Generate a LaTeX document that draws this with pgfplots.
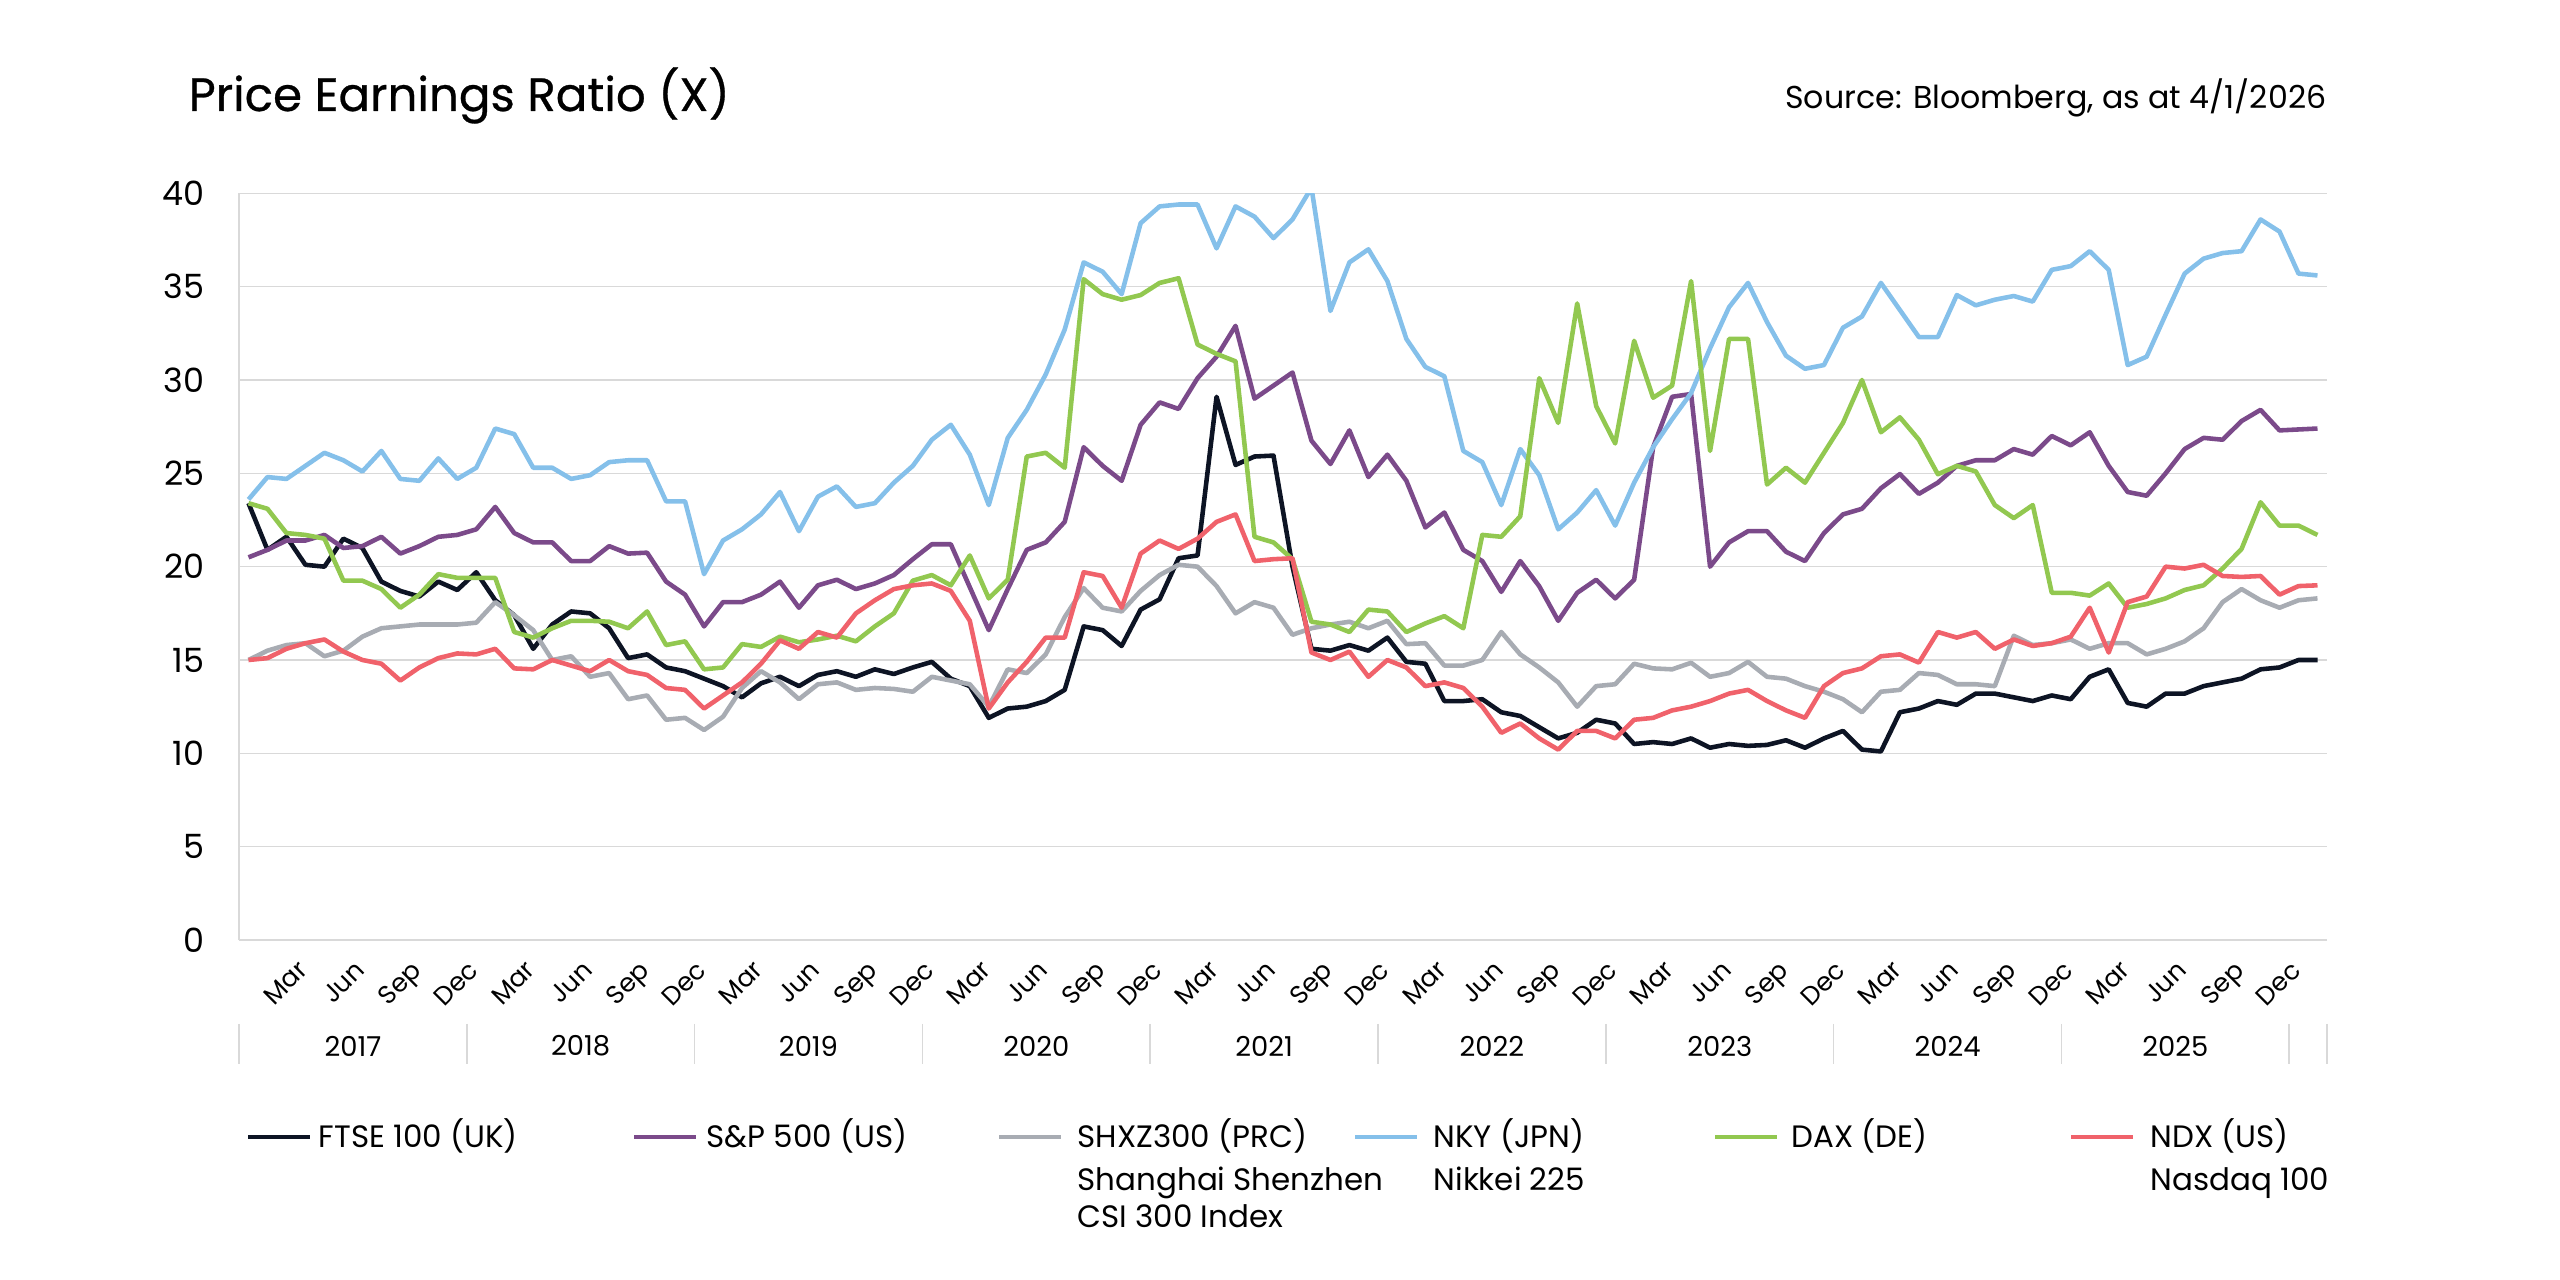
\documentclass[border=0pt]{standalone}
\usepackage{pgfplots}
\pgfplotsset{compat=1.18}
\usepackage{pgfplotstable}
\usepackage{fontspec}
\setmainfont{Poppins}
\newfontfamily\titlefont{Poppins}[FakeBold=0.6]

\definecolor{ftse}{HTML}{0D1424}
\definecolor{spx}{HTML}{7B4A8A}
\definecolor{shx}{HTML}{A8ACB3}
\definecolor{nky}{HTML}{85C0EA}
\definecolor{dax}{HTML}{92C850}
\definecolor{ndx}{HTML}{F0626B}
\definecolor{gridc}{HTML}{D9D9D9}

% monthly P/E, i = 0 is Jan 2017
\pgfplotstableread{
i ftse spx shx nky dax ndx
0 23.4 20.5 15.0 23.6 23.4 15.0
1 20.9 20.9 15.5 24.8 23.1 15.1
2 21.6 21.4 15.8 24.7 21.8 15.6
3 20.1 21.4 15.9 25.4 21.7 15.9
4 20.0 21.7 15.2 26.1 21.5 16.1
5 21.5 21.0 15.5 25.7 19.25 15.45
6 21.0 21.1 16.25 25.1 19.25 15.0
7 19.2 21.6 16.7 26.2 18.8 14.8
8 18.7 20.7 16.8 24.7 17.8 13.9
9 18.4 21.1 16.9 24.6 18.5 14.6
10 19.2 21.6 16.9 25.8 19.6 15.1
11 18.75 21.7 16.9 24.7 19.4 15.35
12 19.7 22.0 17.0 25.3 19.4 15.3
13 18.2 23.2 18.1 27.4 19.4 15.6
14 17.4 21.8 17.4 27.1 16.5 14.55
15 15.6 21.3 16.6 25.3 16.2 14.5
16 16.9 21.3 15.0 25.3 16.7 15.0
17 17.6 20.3 15.2 24.7 17.1 14.7
18 17.5 20.3 14.1 24.9 17.1 14.4
19 16.7 21.1 14.3 25.6 17.05 15.0
20 15.1 20.7 12.9 25.7 16.7 14.4
21 15.3 20.75 13.1 25.7 17.6 14.2
22 14.6 19.2 11.8 23.5 15.8 13.5
23 14.4 18.5 11.9 23.5 16.0 13.4
24 14.0 16.8 11.25 19.6 14.5 12.4
25 13.6 18.1 11.96 21.4 14.6 13.1
26 13.0 18.1 13.5 22.0 15.85 13.8
27 13.75 18.5 14.4 22.8 15.7 14.8
28 14.1 19.2 13.8 24.0 16.25 16.05
29 13.6 17.8 12.9 21.9 15.95 15.6
30 14.2 19.0 13.7 23.75 16.1 16.5
31 14.4 19.3 13.8 24.3 16.3 16.2
32 14.1 18.8 13.4 23.2 16.0 17.5
33 14.5 19.1 13.5 23.4 16.8 18.2
34 14.25 19.55 13.45 24.5 17.5 18.8
35 14.6 20.4 13.3 25.4 19.25 19.0
36 14.9 21.2 14.1 26.8 19.55 19.1
37 14.0 21.2 13.9 27.6 19.0 18.7
38 13.6 18.9 13.7 26.0 20.6 17.1
39 11.9 16.6 12.5 23.3 18.3 12.4
40 12.4 18.8 14.5 26.9 19.3 13.8
41 12.5 20.9 14.3 28.4 25.9 14.9
42 12.8 21.3 15.3 30.3 26.1 16.2
43 13.4 22.4 17.3 32.7 25.3 16.2
44 16.8 26.4 18.85 36.3 35.4 19.7
45 16.6 25.4 17.8 35.8 34.6 19.5
46 15.75 24.6 17.6 34.6 34.3 17.8
47 17.7 27.6 18.7 38.4 34.55 20.7
48 18.25 28.8 19.55 39.3 35.2 21.4
49 20.45 28.45 20.1 39.4 35.45 20.95
50 20.6 30.1 20.0 39.4 31.9 21.5
51 29.1 31.25 18.96 37.05 31.4 22.4
52 25.45 32.9 17.5 39.3 31.0 22.8
53 25.9 29.0 18.1 38.75 21.6 20.3
54 25.95 29.7 17.8 37.6 21.3 20.4
55 20.0 30.4 16.35 38.6 20.4 20.45
56 15.6 26.75 16.7 40.3 17.05 15.4
57 15.5 25.5 16.9 33.7 16.9 15.0
58 15.8 27.3 17.05 36.3 16.5 15.45
59 15.5 24.8 16.7 37.0 17.7 14.1
60 16.2 26.0 17.1 35.3 17.6 15.0
61 14.9 24.6 15.85 32.2 16.5 14.6
62 14.8 22.1 15.9 30.7 16.96 13.6
63 12.8 22.9 14.7 30.2 17.35 13.8
64 12.8 20.9 14.7 26.2 16.7 13.5
65 12.9 20.3 15.0 25.6 21.7 12.5
66 12.2 18.65 16.5 23.3 21.6 11.1
67 12.0 20.3 15.3 26.3 22.7 11.6
68 11.4 18.95 14.6 24.9 30.1 10.8
69 10.8 17.1 13.8 22.0 27.7 10.2
70 11.1 18.6 12.5 22.9 34.1 11.2
71 11.8 19.3 13.6 24.1 28.6 11.2
72 11.6 18.3 13.7 22.2 26.6 10.8
73 10.5 19.3 14.8 24.5 32.1 11.8
74 10.6 26.4 14.55 26.4 29.05 11.9
75 10.5 29.1 14.5 27.9 29.7 12.3
76 10.8 29.25 14.85 29.3 35.3 12.5
77 10.3 20.0 14.1 31.7 26.2 12.8
78 10.5 21.3 14.3 33.9 32.2 13.2
79 10.4 21.9 14.9 35.2 32.2 13.4
80 10.45 21.9 14.1 33.1 24.4 12.8
81 10.7 20.8 14.0 31.3 25.3 12.3
82 10.3 20.3 13.6 30.6 24.5 11.9
83 10.8 21.8 13.3 30.8 26.1 13.6
84 11.2 22.8 12.9 32.8 27.7 14.3
85 10.2 23.1 12.2 33.4 30.0 14.55
86 10.1 24.2 13.3 35.2 27.2 15.2
87 12.2 24.96 13.4 33.75 28.0 15.3
88 12.4 23.9 14.3 32.3 26.8 14.86
89 12.8 24.5 14.2 32.3 24.95 16.5
90 12.6 25.4 13.7 34.55 25.4 16.2
91 13.2 25.7 13.7 34.0 25.1 16.5
92 13.2 25.7 13.6 34.3 23.3 15.6
93 13.0 26.3 16.3 34.5 22.6 16.1
94 12.8 26.0 15.8 34.2 23.3 15.75
95 13.1 27.0 15.9 35.9 18.6 15.9
96 12.9 26.5 16.1 36.1 18.6 16.25
97 14.1 27.2 15.6 36.9 18.45 17.8
98 14.5 25.4 15.9 35.9 19.1 15.4
99 12.7 24.0 15.9 30.8 17.8 18.1
100 12.5 23.8 15.3 31.25 18.0 18.4
101 13.2 25.0 15.6 33.5 18.3 20.0
102 13.2 26.3 16.0 35.7 18.75 19.9
103 13.6 26.9 16.7 36.5 19.0 20.1
104 13.8 26.8 18.1 36.8 19.9 19.5
105 14.0 27.8 18.8 36.9 20.95 19.45
106 14.5 28.4 18.2 38.6 23.45 19.5
107 14.6 27.3 17.8 37.95 22.2 18.5
108 15.0 27.35 18.2 35.7 22.2 18.96
109 15.0 27.4 18.3 35.6 21.7 19.0
}\pe

\begin{document}
\begin{tikzpicture}[x=0.1mm,y=0.1mm]
\path[use as bounding box] (0,0) rectangle (2560,1280);

\node[anchor=base west,inner sep=0pt,font=\titlefont\fontsize{13.3}{16}\selectfont] at (188,1169) {Price Earnings Ratio (X)};
\node[anchor=base east,inner sep=0pt,font=\fontsize{9}{11}\selectfont] at (2327,1171) {Source: Bloomberg, as at 4/1/2026};

\begin{axis}[at={(23.9mm,34mm)},anchor=south west,scale only axis,
  width=208.8mm,height=74.67mm,
  xmin=-0.5,xmax=109.5,ymin=0,ymax=40,
  ytick={0,5,...,40},
  xtick={2,5,...,107},
  xticklabels={Mar,Jun,Sep,Dec,Mar,Jun,Sep,Dec,Mar,Jun,Sep,Dec,Mar,Jun,Sep,Dec,Mar,Jun,Sep,Dec,Mar,Jun,Sep,Dec,Mar,Jun,Sep,Dec,Mar,Jun,Sep,Dec,Mar,Jun,Sep,Dec},
  ymajorgrids,grid style={draw=gridc,line width=0.45pt},
  axis x line*=bottom,axis y line*=left,
  x axis line style={draw=none},
  y axis line style={draw=gridc,line width=0.45pt,-},
  major tick length=0pt,
  /pgf/number format/assume math mode=true,
  yticklabel style={font=\fontsize{9.5}{11}\selectfont,anchor=east,inner sep=0pt,xshift=-3.4mm},
  xticklabel style={font=\fontsize{7.3}{9}\selectfont,rotate=45,anchor=north east,inner sep=0pt,yshift=-2.0mm,xshift=-0.6mm},
  every axis plot/.append style={line width=1.3pt,line join=round,no marks},
]
\addplot[ftse] table[x=i,y=ftse]{\pe};
\addplot[spx] table[x=i,y=spx]{\pe};
\addplot[shx] table[x=i,y=shx]{\pe};
\addplot[nky] table[x=i,y=nky]{\pe};
\addplot[dax] table[x=i,y=dax]{\pe};
\addplot[ndx] table[x=i,y=ndx]{\pe};
\end{axis}

% year row
\foreach \k/\yr in {0/2017,1/2018,2/2019,3/2020,4/2021,5/2022,6/2023,7/2024,8/2025}
  \node[font=\fontsize{7.8}{9}\selectfont,inner sep=0pt] at ({352.9+227.8*\k},234) {\yr};
\foreach \k in {0,...,9}
  \draw[gridc,line width=0.45pt] ({239+227.8*\k},256) -- ++(0,-40);
\draw[gridc,line width=0.45pt] (2327,256) -- ++(0,-40);

% legend
\def\lf{\fontsize{8.8}{10}\selectfont}
\draw[ftse,line width=1.3pt] (248,143) -- ++(62,0);
\node[anchor=base west,inner sep=0pt,font=\lf] at (318,132) {FTSE 100 (UK)};
\draw[spx,line width=1.3pt] (634,143) -- ++(62,0);
\node[anchor=base west,inner sep=0pt,font=\lf] at (706,132) {S\&P 500 (US)};
\draw[shx,line width=1.3pt] (999,143) -- ++(62,0);
\node[anchor=base west,inner sep=0pt,font=\lf] at (1077,132) {SHXZ300 (PRC)};
\node[anchor=base west,inner sep=0pt,font=\lf] at (1077,90) {Shanghai Shenzhen};
\node[anchor=base west,inner sep=0pt,font=\lf] at (1077,52) {CSI 300 Index};
\draw[nky,line width=1.3pt] (1355,143) -- ++(62,0);
\node[anchor=base west,inner sep=0pt,font=\lf] at (1433,132) {NKY (JPN)};
\node[anchor=base west,inner sep=0pt,font=\lf] at (1433,90) {Nikkei 225};
\draw[dax,line width=1.3pt] (1715,143) -- ++(62,0);
\node[anchor=base west,inner sep=0pt,font=\lf] at (1791,132) {DAX (DE)};
\draw[ndx,line width=1.3pt] (2071,143) -- ++(62,0);
\node[anchor=base west,inner sep=0pt,font=\lf] at (2150,132) {NDX (US)};
\node[anchor=base west,inner sep=0pt,font=\lf] at (2150,90) {Nasdaq 100};
\end{tikzpicture}
\end{document}
